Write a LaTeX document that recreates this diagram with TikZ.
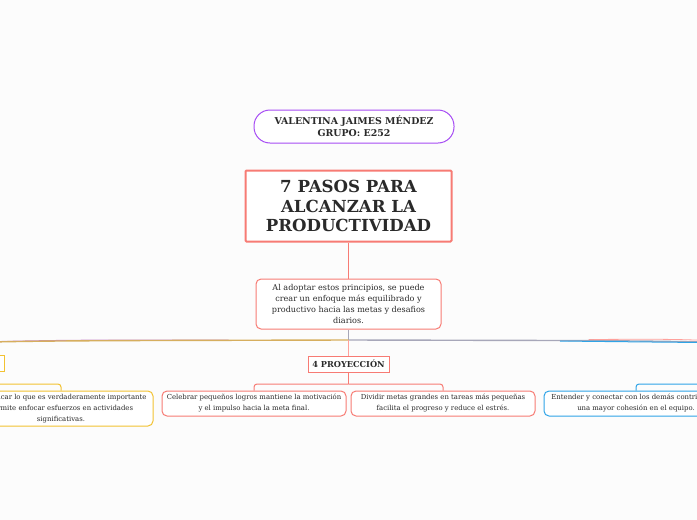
\documentclass[tikz,border=0pt]{standalone}
\usepackage{fontspec}
\setmainfont{DejaVu Serif}
\definecolor{salmon}{HTML}{F77B74}
\definecolor{rosa}{HTML}{FFA19C}
\definecolor{morado}{HTML}{A64CF4}
\definecolor{dorado}{HTML}{F2C232}
\definecolor{ocre}{HTML}{D6AE5E}
\definecolor{celeste}{HTML}{2FA4E7}
\definecolor{gris}{HTML}{A7A7B9}
\definecolor{lila}{HTML}{C889C8}
\definecolor{texto}{HTML}{2A2A2A}
\definecolor{fondo}{HTML}{FCFCFC}

\begin{document}
\begin{tikzpicture}[x=1pt,y=-1pt,
   caja/.style={draw, line width=1pt, rounded corners=5pt, fill=white, text=texto,
                align=center, inner sep=0pt, minimum width=184pt, minimum height=25pt,
                font=\fontsize{6.9}{11}\selectfont},
   tema/.style={draw=salmon, line width=1pt, fill=white, text=texto, align=center,
                inner sep=0pt, minimum width=81pt, minimum height=16pt,
                font=\fontsize{8.2}{9}\selectfont\bfseries},
   rama/.style={line width=1pt, rounded corners=3pt},
   eje/.style={line width=1.4pt}]
   \useasboundingbox (0,0) rectangle (697,520);
   \fill [fondo] (0,0) rectangle (697,520);

   % nodos de arriba
   \node [draw=morado, line width=1pt, rounded corners=16pt, fill=white, text=texto,
          minimum width=200pt, minimum height=33pt, inner sep=0pt, align=center,
          font=\fontsize{9.4}{12}\selectfont\bfseries]
         (autora) at (354,126.5) {VALENTINA JAIMES MÉNDEZ\\GRUPO: E252};
   \node [draw=salmon, line width=2pt, rounded corners=1pt, fill=white, text=texto,
          minimum width=206pt, minimum height=71pt, inner sep=0pt, align=center,
          font=\fontsize{16.6}{19.5}\selectfont\bfseries]
         (titulo) at (348.5,206) {7 PASOS PARA\\ALCANZAR LA\\PRODUCTIVIDAD};
   \node [caja, draw=salmon, minimum width=185pt, minimum height=50pt,
          font=\fontsize{8.1}{11}\selectfont]
         (resumen) at (348.5,304) {Al adoptar estos principios, se puede\\crear un enfoque más equilibrado y\\productivo hacia las metas y desafios\\diarios.};

   % ramas principales
   \coordinate (cruce) at (348.5,340);
   \coordinate (lejosizq) at (-60,343);
   \coordinate (lejosder) at (760,343);
   \draw [salmon, line width=1.4pt] (titulo) -- (resumen);
   \draw [gris, eje] (resumen) -- (cruce);
   \draw [lila, line width=1pt] (cruce) ++(-120,0) .. controls (60,340) .. (lejosizq);
   \draw [ocre, eje] (cruce) -- (150,340.5) .. controls (40,341) .. (lejosizq);
   \draw [rosa, line width=0.8pt] (cruce) ++(240,-0.5) .. controls (680,339) .. (lejosder);
   \draw [gris, eje] (cruce) -- (560,340.5) .. controls (650,341) .. (lejosder);
   \draw [celeste, line width=1pt] (560,341) .. controls (650,342) .. (lejosder);

   % 4 proyeccion
   \node [tema] (proy) at (348.5,364) {4 PROYECCIÓN};
   \node [draw=dorado, line width=1pt, fill=white, minimum width=84pt, minimum height=16pt,
          inner sep=0pt] (tema3) at (-38,363) {};
   \draw [rosa, line width=1.4pt] (cruce) -- (proy);

   \node [caja, draw=salmon] (logros) at (254,403.5)
         {Celebrar pequeños logros mantiene la motivación\\y el impulso hacia la meta final.};
   \node [caja, draw=salmon] (metas) at (443,403.5)
         {Dividir metas grandes en tareas más pequeñas\\facilita el progreso y reduce el estrés.};
   \node [caja, draw=dorado, minimum height=35pt] (prioridad) at (61,408.5)
         {Identificar lo que es verdaderamente importante\\permite enfocar esfuerzos en actividades\\significativas.};
   \node [caja, draw=celeste] (empatia) at (636,403.5)
         {Entender y conectar con los demás contribuye a\\una mayor cohesión en el equipo.};

   \coordinate (barra) at (348.5,384);
   \coordinate (bordeizq) at (-30,384);
   \coordinate (bordeder) at (730,384);
   \draw [salmon, line width=1pt] (proy) -- (barra);
   \draw [salmon, rama] (barra) -| (logros);
   \draw [salmon, rama] (barra) -| (metas);
   \draw [dorado, rama] (bordeizq) -| (prioridad);
   \draw [celeste, rama] (bordeder) -| (empatia);
\end{tikzpicture}
\end{document}
